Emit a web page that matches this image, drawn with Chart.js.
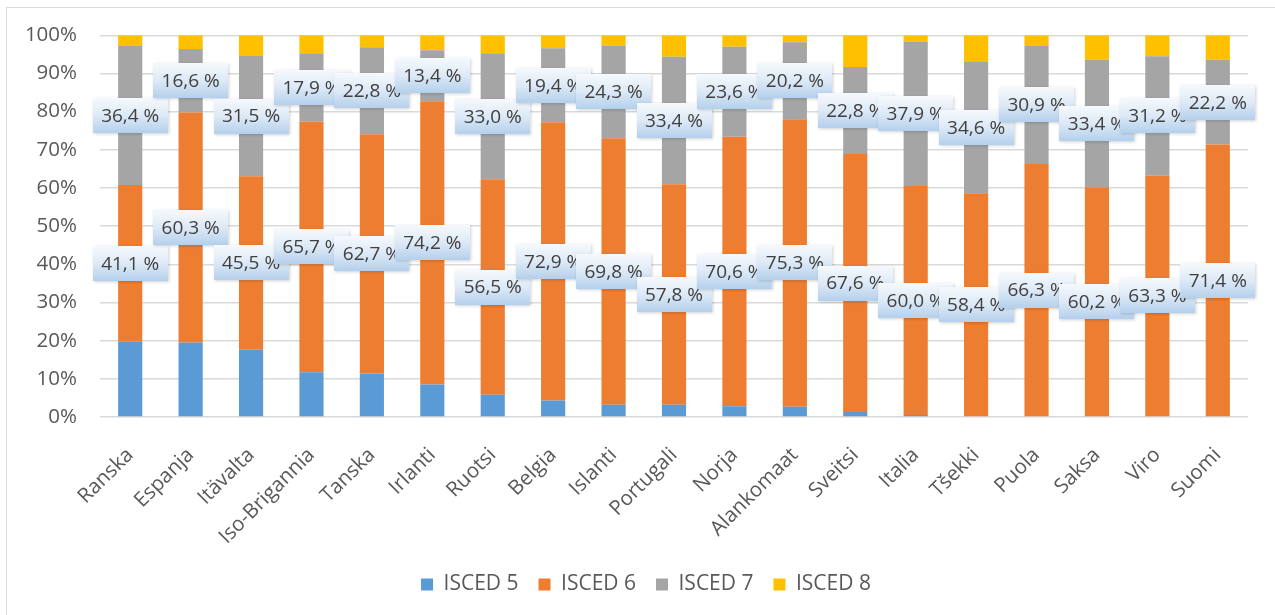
<!DOCTYPE html>
<html>
<head>
<meta charset="utf-8">
<script src="https://cdn.jsdelivr.net/npm/chart.js@4"></script>
<style>
  html, body { margin: 0; padding: 0; background: #fff; overflow: hidden; }
  #wrap { position: relative; width: 1275px; height: 615px; }
  #frame { position: absolute; left: 6px; top: 7px; width: 1300px; height: 700px; border: 1px solid #d9d9d9; box-sizing: border-box; }
  canvas { position: absolute; left: 0; top: 0; }
</style>
</head>
<body>
<div id="wrap">
  <div id="frame"></div>
  <canvas id="chart" width="1275" height="615"></canvas>
</div>
<script>
const countries = ["Ranska", "Espanja", "Itävalta", "Iso-Brigannia", "Tanska", "Irlanti", "Ruotsi", "Belgia", "Islanti", "Portugali", "Norja", "Alankomaat", "Sveitsi", "Italia", "Tšekki", "Puola", "Saksa", "Viro", "Suomi"];
const isced5 = [19.7, 19.5, 17.6, 11.7, 11.4, 8.5, 5.8, 4.3, 3.2, 3.2, 2.8, 2.7, 1.3, 0.5, 0.2, 0.0, 0.0, 0.0, 0.0];
const isced6 = [41.1, 60.3, 45.5, 65.7, 62.7, 74.2, 56.5, 72.9, 69.8, 57.8, 70.6, 75.3, 67.6, 60.0, 58.4, 66.3, 60.2, 63.3, 71.4];
const isced7 = [36.4, 16.6, 31.5, 17.9, 22.8, 13.4, 33.0, 19.4, 24.3, 33.4, 23.6, 20.2, 22.8, 37.9, 34.6, 30.9, 33.4, 31.2, 22.2];
const isced8 = [2.8, 3.6, 5.4, 4.7, 3.1, 3.9, 4.7, 3.4, 2.7, 5.6, 3.0, 1.8, 8.3, 1.6, 6.8, 2.8, 6.4, 5.5, 6.4];
const yTicks = [0, 10, 20, 30, 40, 50, 60, 70, 80, 90, 100];

const FONT = '"Open Sans", "Liberation Sans", sans-serif';

// boxed value labels on ISCED 6 and ISCED 7 (like the Excel callouts)
const boxLabels = {
  id: "boxLabels",
  afterLayout(chart) {
    // excel centres the legend a bit to the right
    chart.legend.left += 22;
    chart.legend.right += 22;
  },
  afterDatasetsDraw(chart) {
    const ctx = chart.ctx;
    ctx.save();
    ctx.font = "19px " + FONT;
    ctx.textAlign = "center";
    ctx.textBaseline = "middle";
    [1, 2].forEach((di) => {
      const meta = chart.getDatasetMeta(di);
      meta.data.forEach((bar, i) => {
        const value = chart.data.datasets[di].data[i];
        const text = value.toFixed(1).replace(".", ",") + " %";
        const w = Math.round(ctx.measureText(text).width + 17);
        const h = 35;
        const cy = (bar.y + bar.base) / 2;
        const x0 = Math.round(bar.x - w / 2);
        const y0 = Math.round(cy - h / 2);

        const grad = ctx.createLinearGradient(0, y0, 0, y0 + h);
        grad.addColorStop(0, "#f6f9fd");
        grad.addColorStop(0.5, "#dde9f6");
        grad.addColorStop(1, "#b4d0ec");

        ctx.shadowColor = "rgba(0, 0, 0, 0.18)";
        ctx.shadowBlur = 3;
        ctx.shadowOffsetX = 1;
        ctx.shadowOffsetY = 1;
        ctx.fillStyle = grad;
        ctx.fillRect(x0, y0, w, h);

        ctx.shadowColor = "transparent";
        ctx.fillStyle = "#404040";
        ctx.fillText(text, bar.x, cy + 1);
      });
    });
    ctx.restore();
  }
};

new Chart(document.getElementById("chart"), {
  type: "bar",
  data: {
    labels: countries,
    datasets: [
      { label: "ISCED 5", data: isced5, backgroundColor: "#5b9bd5" },
      { label: "ISCED 6", data: isced6, backgroundColor: "#ed7d31" },
      { label: "ISCED 7", data: isced7, backgroundColor: "#a5a5a5" },
      { label: "ISCED 8", data: isced8, backgroundColor: "#ffc000" }
    ]
  },
  options: {
    responsive: false,
    animation: false,
    devicePixelRatio: 1,
    categoryPercentage: 1,
    barPercentage: 0.4,
    layout: {
      padding: { top: 35, right: 27, left: 0, bottom: 10 }
    },
    plugins: {
      legend: {
        position: "bottom",
        labels: {
          boxWidth: 12,
          boxHeight: 12,
          padding: 20,
          color: "#595959",
          font: { family: FONT, size: 21 }
        }
      },
      tooltip: { enabled: false }
    },
    scales: {
      x: {
        stacked: true,
        grid: { display: false },
        border: { display: false },
        ticks: {
          color: "#595959",
          font: { family: FONT, size: 20.5 },
          minRotation: 45,
          maxRotation: 45,
          padding: 18
        },
        afterFit(scale) {
          scale.height = 137;
        }
      },
      y: {
        stacked: true,
        min: 0,
        max: 100,
        afterBuildTicks(scale) {
          scale.ticks = yTicks.map((v) => ({ value: v }));
        },
        grid: { color: "#d9d9d9", lineWidth: 1.5, drawTicks: false },
        border: { display: false },
        ticks: {
          color: "#595959",
          font: { family: FONT, size: 20.5 },
          padding: 23,
          callback: (v) => v + "%"
        },
        afterFit(scale) {
          scale.width = 100;
        }
      }
    }
  },
  plugins: [boxLabels]
});
</script>
</body>
</html>
